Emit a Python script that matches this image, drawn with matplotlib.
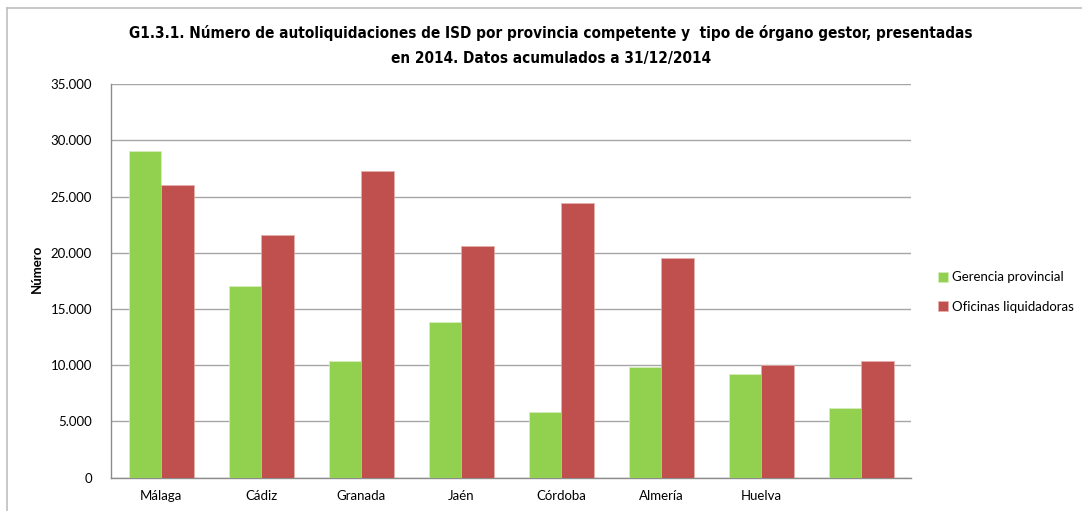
import matplotlib

matplotlib.use("Agg")
import matplotlib.pyplot as plt
import numpy as np
from matplotlib.lines import Line2D
from matplotlib.ticker import FuncFormatter

provincias = ["Málaga", "Cádiz", "Granada", "Jaén", "Córdoba", "Almería", "Huelva", ""]
gerencia = [29050, 17020, 10350, 13820, 5790, 9810, 9190, 6170]
oficinas = [26000, 21620, 27250, 20580, 24400, 19580, 9970, 10410]
series = ["Gerencia provincial", "Oficinas liquidadoras"]
colores = ["#92D050", "#C0504D"]
yticks = [0, 5000, 10000, 15000, 20000, 25000, 30000, 35000]

plt.rcParams["font.family"] = ["Lato", "DejaVu Sans"]

W, H = 1082, 511
fig = plt.figure(figsize=(W / 100, H / 100), dpi=100)
ax = fig.add_axes([111.4 / W, 1 - 477.5 / H, 800 / W, 393.2 / H])

x = np.arange(len(provincias)) + 0.5
bw = 0.325
ax.bar(x - bw / 2, gerencia, bw, color=colores[0], edgecolor="#d8eec0",
       linewidth=0.5, label=series[0], zorder=3)
ax.bar(x + bw / 2, oficinas, bw, color=colores[1], edgecolor="#e6b0ae",
       linewidth=0.5, label=series[1], zorder=3)

ax.set_xlim(0, len(provincias))
ax.set_ylim(0, 35000)
ax.set_yticks(yticks)
ax.yaxis.set_major_formatter(FuncFormatter(lambda v, p: f"{int(v):,}".replace(",", ".")))
ax.set_xticks(x)
ax.set_xticklabels(provincias)
ax.tick_params(axis="both", length=0, labelsize=9.5, colors="#000000")
ax.tick_params(axis="x", pad=9)
ax.tick_params(axis="y", pad=14)
ax.grid(axis="y", color="#a6a6a6", lw=1.0, zorder=0)
for s in ["top", "right"]:
    ax.spines[s].set_visible(False)
for s in ["left", "bottom"]:
    ax.spines[s].set_color("#8c8c8c")
    ax.spines[s].set_linewidth(1.0)
ax.set_ylabel("Número", fontsize=9.5, fontweight="bold")
ax.yaxis.set_label_coords((43 - 111.4) / 800, 0.53)

titulo_kw = dict(ha="center", va="center", fontsize=11, fontweight="bold",
                 family=["DejaVu Sans"], fontstretch="condensed")
fig.text(551 / W, 1 - 33 / H,
         "G1.3.1. Número de autoliquidaciones de ISD por provincia competente y  tipo de órgano gestor, presentadas",
         **titulo_kw)
fig.text(551 / W, 1 - 58 / H, "en 2014. Datos acumulados a 31/12/2014", **titulo_kw)

ax.legend(loc="center left", bbox_to_anchor=(926 / W, 1 - 292 / H),
          bbox_transform=fig.transFigure, frameon=False, fontsize=9.5,
          handlelength=0.8, handleheight=0.8, handletextpad=0.3, labelspacing=1.3)

fig.add_artist(Line2D([7 / W, 1], [1 - 8 / H, 1 - 8 / H], transform=fig.transFigure,
                      color="#bfbfbf", lw=1.2))
fig.add_artist(Line2D([7 / W, 7 / W], [0, 1 - 8 / H], transform=fig.transFigure,
                      color="#bfbfbf", lw=1.2))

fig.savefig("out.png", dpi=100)
